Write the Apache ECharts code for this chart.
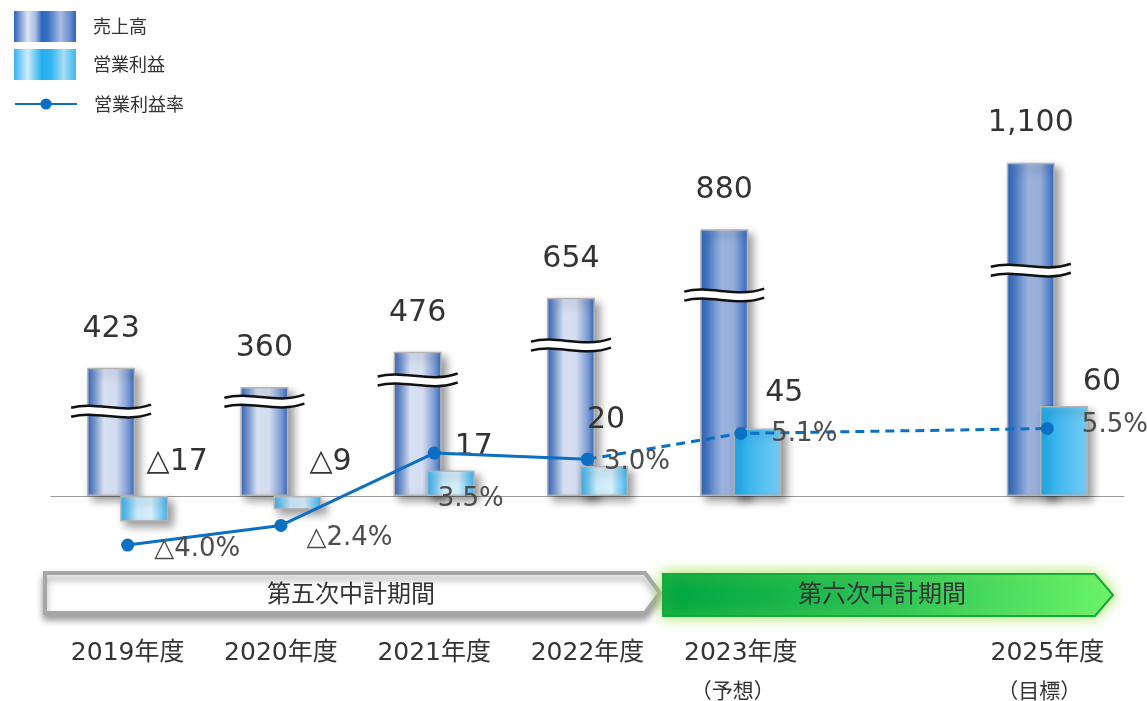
<!DOCTYPE html>
<html>
<head>
<meta charset="utf-8">
<script src="https://cdn.jsdelivr.net/npm/echarts@6/dist/echarts.min.js"></script>
<style>
  html, body { margin: 0; padding: 0; background: #fff; }
  #chart { width: 1147px; height: 701px; }
</style>
</head>
<body>
<div id="chart"></div>
<script>
// 年度（2024年度は空欄）
const categories = ['2019年度', '2020年度', '2021年度', '2022年度', '2023年度', '', '2025年度'];
const subLabels  = ['', '', '', '', '（予想）', '', '（目標）'];
// 売上高（億円）
const revenue    = [423, 360, 476, 654, 880, null, 1100];
// 営業利益（億円）
const profit     = [-17, -9, 17, 20, 45, null, 60];
// 営業利益率（%）
const marginRate = [-4.0, -2.4, 3.5, 3.0, 5.1, null, 5.5];
// 売上高棒の省略記号（≈）を置く値
const breakAt    = [270, 303, 373, 488, 653, null, 735];
// 予想・目標の最初の年度
const planFrom = 4;

const FONT = "'DejaVu Sans', 'Noto Sans CJK JP', sans-serif";
const JP_FONT = "'Noto Sans CJK JP', sans-serif";
const BAR_W = 48;
const BAR_GAP = -0.31;
const barShift = (BAR_W + BAR_W * BAR_GAP) / 2;

const grad = (stops) => new echarts.graphic.LinearGradient(0, 0, 1, 0,
  stops.map(s => ({ offset: s[0], color: s[1] })));

const revGradActual = grad([[0, '#2c63bb'], [0.12, '#6a8ecf'], [0.35, '#d6e0f1'], [0.6, '#d3ddef'], [0.85, '#7d9bd3'], [1, '#2e65bd']]);
const revGradPlan   = grad([[0, '#2a63bd'], [0.15, '#4a7cc8'], [0.45, '#9cb3dc'], [0.7, '#94add9'], [0.9, '#507fc9'], [1, '#3168c0']]);
const profGradActual = grad([[0, '#2eaef0'], [0.35, '#c9e8f9'], [0.65, '#d6eefa'], [1, '#3ab3f0']]);
const profGradPlan   = grad([[0, '#1eaaee'], [0.5, '#4cbcf0'], [1, '#78ccf2']]);
const legendRevGrad  = grad([[0, '#2a64bc'], [0.1, '#7d9bd3'], [0.22, '#dde5f3'], [0.35, '#a5b9e0'], [0.45, '#2a66c0'], [0.55, '#3a70c4'], [0.75, '#a9bde2'], [0.9, '#6a8dcf'], [1, '#2a64bc']]);
const legendProfGrad = grad([[0, '#36b2f0'], [0.22, '#d0ecf9'], [0.45, '#22aef0'], [0.6, '#34b4f0'], [0.8, '#a8dcf6'], [1, '#3cb6f0']]);

const barShadow = { shadowColor: 'rgba(0,0,0,0.4)', shadowBlur: 8, shadowOffsetX: 5, shadowOffsetY: 5 };
const LINE_COLOR = '#0b6fc3';

const tri = (v, digits) => (v < 0 ? '△' : '') + Math.abs(v).toFixed(digits);

// 営業利益ラベルのずれ（棒の上端・右寄せ）
const profitNudge = [[33, -19], [33, -19], [23, -8], [2, -31], [27, -20], null, [38, -9]];
// 営業利益率ラベルのずれ（点の右）
const marginNudge = [[20, 4], [19, 13], [-3, 46], [10, 3], [24, 1], null, [28, -3]];

const revenueData = revenue.map((v, i) => v == null ? '-' : {
  value: v,
  itemStyle: { color: i >= planFrom ? revGradPlan : revGradActual }
});

const profitData = profit.map((v, i) => v == null ? '-' : {
  value: v,
  itemStyle: { color: i >= planFrom ? profGradPlan : profGradActual },
  label: { offset: profitNudge[i] }
});

const marginLabel = (i) => ({
  show: true, position: 'right', distance: 0, offset: marginNudge[i],
  formatter: (p) => tri(p.value, 1) + '%',
  fontFamily: FONT, fontSize: 26, color: '#4d4d4d'
});

const actualLine = marginRate.map((v, i) => (i < planFrom && v != null) ? { value: v, label: marginLabel(i) } : '-');
const planLine = marginRate.map((v, i) => (i >= planFrom - 1 && v != null)
  ? (i >= planFrom ? { value: v, label: marginLabel(i) } : { value: v })
  : '-');

const breakData = [];
breakAt.forEach((v, i) => { if (v != null) breakData.push([i, v]); });

// 省略記号：白い帯を二本の波線で挟む
function renderBreak(params, api) {
  const p = api.coord([api.value(0), api.value(1)]);
  const cx = p[0] - barShift, cy = p[1];
  const gap = 9;
  const top = [[-40, -2], [-14, -9], [12, 5], [40, -5]].map(q => [cx + q[0], cy + q[1] - gap / 2]);
  const bot = top.map(q => [q[0], q[1] + gap]);
  const fill = `M${top[0]} C${top[1]} ${top[2]} ${top[3]} L${bot[3]} C${bot[2]} ${bot[1]} ${bot[0]} Z`;
  const curve = (c) => ({
    type: 'bezierCurve',
    shape: { x1: c[0][0], y1: c[0][1], cpx1: c[1][0], cpy1: c[1][1], cpx2: c[2][0], cpy2: c[2][1], x2: c[3][0], y2: c[3][1] },
    style: { stroke: '#111', lineWidth: 2.5, fill: null }
  });
  return {
    type: 'group',
    children: [
      { type: 'path', shape: { pathData: fill }, style: { fill: '#fff', stroke: null } },
      curve(top), curve(bot)
    ]
  };
}

// 年度ラベル：帯の下に二段で置く
const yearLabelData = categories.map((c, i) => [i, 0]);
function renderYearLabel(params, api) {
  const i = api.value(0);
  const p = api.coord([i, 0]);
  const children = [];
  if (categories[i]) {
    children.push({
      type: 'text', x: p[0], y: p[1] + 157,
      style: { text: categories[i], font: "25px " + FONT, fill: '#333', align: 'center', verticalAlign: 'middle' }
    });
  }
  if (subLabels[i]) {
    children.push({
      type: 'text', x: p[0] - 8, y: p[1] + 194,
      style: { text: subLabels[i], font: "21px " + JP_FONT, fill: '#333', align: 'center', verticalAlign: 'middle' }
    });
  }
  return { type: 'group', children };
}

const option = {
  backgroundColor: '#fff',
  animation: false,
  textStyle: { fontFamily: FONT },
  legend: [
    {
      left: 14, top: 11, padding: 0, orient: 'vertical', icon: 'rect', selectedMode: false,
      itemWidth: 62, itemHeight: 31, itemGap: 7,
      itemStyle: { borderWidth: 0, shadowBlur: 0, shadowOffsetX: 0, shadowOffsetY: 0 },
      textStyle: { fontFamily: JP_FONT, fontSize: 18, color: '#333', padding: [0, 0, 0, 12] },
      data: [
        { name: '売上高', itemStyle: { color: legendRevGrad } },
        { name: '営業利益', itemStyle: { color: legendProfGrad } }
      ]
    },
    {
      left: 14, top: 95, padding: 0, selectedMode: false,
      itemWidth: 62, itemHeight: 14,
      textStyle: { fontFamily: JP_FONT, fontSize: 18, color: '#333', padding: [0, 0, 0, 12] },
      data: ['営業利益率']
    }
  ],
  grid: { left: 51, right: 23, top: 96, bottom: 105, containLabel: false, outerBoundsMode: 'none' },
  xAxis: {
    type: 'category',
    data: categories,
    boundaryGap: true,
    axisLine: { lineStyle: { color: '#9a9a9a', width: 1 } },
    axisTick: { show: false },
    axisLabel: { show: false }
  },
  yAxis: [
    { type: 'value', show: false, min: -330, max: 1320 },
    { type: 'value', show: false, min: -200 / 3, max: 800 / 3 },
    { type: 'value', show: false, min: -8.15, max: 32.6 }
  ],
  series: [
    {
      name: '売上高', type: 'bar', yAxisIndex: 0, barWidth: BAR_W, barGap: (BAR_GAP * 100) + '%',
      z: 2,
      itemStyle: Object.assign({ color: revGradActual, borderColor: '#b4b4b4', borderWidth: 1.5 }, barShadow),
      label: {
        show: true, position: 'top', distance: 24,
        formatter: (p) => Number(p.value).toLocaleString('en-US'),
        fontFamily: FONT, fontSize: 30, color: '#333'
      },
      data: revenueData
    },
    {
      name: '営業利益', type: 'bar', yAxisIndex: 1, barWidth: BAR_W,
      z: 2,
      itemStyle: Object.assign({ color: profGradActual, borderColor: '#b4b4b4', borderWidth: 1.5 }, barShadow),
      label: {
        show: true, position: 'top', distance: 0,
        formatter: (p) => tri(p.value, 0),
        fontFamily: FONT, fontSize: 30, color: '#333'
      },
      data: profitData
    },
    {
      name: '省略', type: 'custom', xAxisIndex: 0, yAxisIndex: 0, z: 3, silent: true,
      encode: { x: 0, y: 1 },
      renderItem: renderBreak,
      data: breakData
    },
    {
      name: '年度', type: 'custom', xAxisIndex: 0, yAxisIndex: 0, z: 3, silent: true, clip: false,
      encode: { x: 0, y: 1 },
      renderItem: renderYearLabel,
      data: yearLabelData
    },
    {
      name: '営業利益率', type: 'line', yAxisIndex: 2, z: 4,
      symbol: 'circle', symbolSize: 13,
      itemStyle: { color: LINE_COLOR },
      lineStyle: { color: LINE_COLOR, width: 3 },
      data: actualLine
    },
    {
      name: '営業利益率', type: 'line', yAxisIndex: 2, z: 4, connectNulls: true,
      symbol: 'circle', symbolSize: 13,
      itemStyle: { color: LINE_COLOR },
      lineStyle: { color: LINE_COLOR, width: 3, type: [9, 6] },
      data: planLine
    }
  ],
  graphic: [
    {
      type: 'polygon', z: 10,
      shape: { points: [[45, 573], [645, 573], [660, 593], [645, 613], [45, 613]] },
      style: { fill: '#fff', stroke: '#a6a6a6', lineWidth: 4, shadowColor: 'rgba(0,0,0,0.35)', shadowBlur: 7, shadowOffsetY: 5 }
    },
    {
      type: 'polygon', z: 11,
      shape: { points: [[663, 574], [1095, 574], [1113, 595], [1095, 616], [663, 616]] },
      style: {
        fill: new echarts.graphic.LinearGradient(0, 0, 1, 0, [
          { offset: 0, color: '#00a640' }, { offset: 0.5, color: '#2cc356' }, { offset: 1, color: '#6af56a' }
        ]),
        stroke: '#12a844', lineWidth: 2,
        shadowColor: 'rgba(160,225,70,0.95)', shadowBlur: 14
      }
    },
    {
      type: 'text', z: 12, x: 351, y: 593,
      style: { text: '第五次中計期間', font: "24px 'Noto Sans CJK JP', sans-serif", fill: '#333', align: 'center', verticalAlign: 'middle' }
    },
    {
      type: 'text', z: 12, x: 882, y: 593,
      style: {
        text: '第六次中計期間', font: "24px 'Noto Sans CJK JP', sans-serif", fill: '#333', align: 'center', verticalAlign: 'middle',
        shadowColor: 'rgba(255,255,255,0.9)', shadowBlur: 4
      }
    }
  ]
};

const chart = echarts.init(document.getElementById('chart'), null, { renderer: 'canvas' });
chart.setOption(option);
</script>
</body>
</html>
